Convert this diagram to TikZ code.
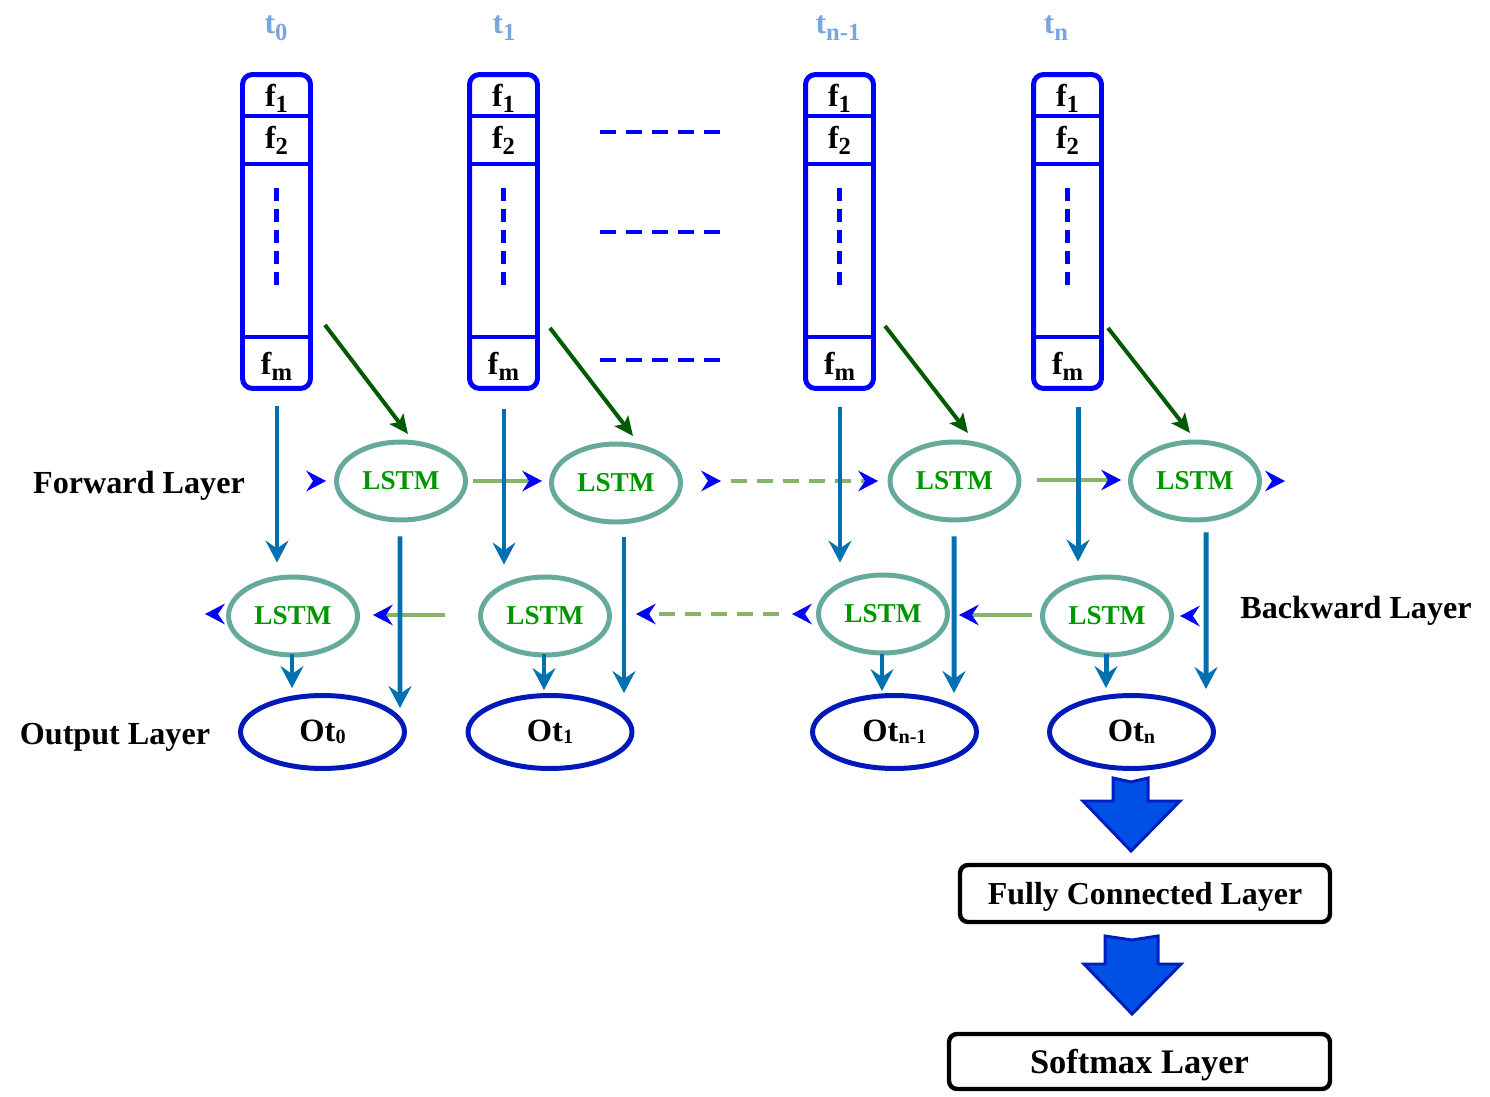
\documentclass[tikz,border=0pt]{standalone}
\usepackage{fontspec}
\setmainfont{Liberation Serif}
\usetikzlibrary{arrows.meta,shapes.geometric,calc}
\definecolor{boxblue}{RGB}{0,0,255}
\definecolor{tblue}{RGB}{122,166,224}
\definecolor{dgreen}{RGB}{0,90,0}
\definecolor{steel}{RGB}{0,112,176}
\definecolor{lstmring}{RGB}{102,170,155}
\definecolor{lstmtext}{RGB}{0,150,0}
\definecolor{lgreen}{RGB}{135,180,105}
\definecolor{outblue}{RGB}{0,25,185}
\definecolor{bafill}{RGB}{0,80,230}
\definecolor{badraw}{RGB}{0,30,190}
\newcommand{\fsub}[1]{f\raisebox{-3.5pt}{\fontsize{14}{14}\selectfont #1}}
\newcommand{\tsub}[1]{t\raisebox{-4pt}{\fontsize{14}{14}\selectfont #1}}
\newcommand{\osub}[1]{Ot\raisebox{-1pt}{\fontsize{11.5}{11.5}\selectfont #1}}
\begin{document}
\begin{tikzpicture}[x=0.02cm,y=-0.02cm,
 lbl/.style={font=\fontsize{18.3}{20}\selectfont\bfseries, text=black, inner sep=0, text depth=0pt},
 ftxt/.style={font=\fontsize{18}{20}\selectfont\bfseries, inner sep=0},
 ttxt/.style={font=\fontsize{18}{20}\selectfont\bfseries, text=tblue, inner sep=0},
 featbox/.style={draw=boxblue, line width=2.83pt, rounded corners=0.2cm, minimum width=1.36cm, minimum height=6.28cm, inner sep=0},
 featline/.style={draw=boxblue, line width=2.6pt},
 vdots/.style={draw=boxblue, line width=2.3pt, dash pattern=on 0.26cm off 0.16cm},
 hdots/.style={draw=boxblue, line width=2.3pt, dash pattern=on 0.32cm off 0.2cm},
 lstm/.style={ellipse, draw=lstmring, line width=2.83pt, minimum width=2.58cm, minimum height=1.56cm, inner sep=0, text=lstmtext, font=\fontsize{15.5}{18}\selectfont\bfseries},
 outnode/.style={ellipse, draw=outblue, line width=2.83pt, minimum width=3.28cm, minimum height=1.46cm, inner sep=0, font=\fontsize{18.5}{20}\selectfont\bfseries},
 layerbox/.style={draw=black, line width=2.5pt, rounded corners=0.16cm, inner sep=0, text depth=0pt},
 vflow/.style={draw=steel, line width=2.83pt, -{Stealth[length=0.44cm,width=0.46cm,inset=0.16cm]}},
 feed/.style={draw=dgreen, line width=2.27pt, -{Stealth[length=0.38cm,width=0.34cm,inset=0.08cm]}},
 rec/.style={draw=lgreen, line width=2.27pt, -{Stealth[length=0.4cm,width=0.42cm,inset=0.14cm,color=boxblue,line width=0pt]}},
 recd/.style={rec, dash pattern=on 0.32cm off 0.2cm},
 chevr/.pic={\fill[boxblue] (0,0) -- (-20,-10.5) -- (-13,0) -- (-20,10.5) -- cycle;},
 chevl/.pic={\fill[boxblue] (0,0) -- (20,-10.5) -- (13,0) -- (20,10.5) -- cycle;},
 blockarrow/.style={fill=bafill, draw=badraw, line width=1.7pt, line join=miter}
]
\useasboundingbox (0,0) rectangle (1490,1097);

% feature columns
\foreach \i/\x/\tx/\tt in {1/276.5/276/0, 2/503.5/504/1, 3/839.5/838/n-1, 4/1067.5/1056/n} {
  \node[ttxt] (t\i) at (\tx,28) {\tsub{\tt}};
  \node[featbox] (c\i) at (\x,231.5) {};
  \draw[featline] ({\x-34},116) -- ({\x+34},116);
  \draw[featline] ({\x-34},164) -- ({\x+34},164);
  \draw[featline] ({\x-34},337) -- ({\x+34},337);
  \node[ftxt] (c\i a) at (\x,98) {\fsub{1}};
  \node[ftxt] (c\i b) at (\x,140) {\fsub{2}};
  \node[ftxt] (c\i m) at (\x,366) {\fsub{m}};
  \draw[vdots] (\x,188) -- (\x,288);
}
\draw[hdots] (600,132) -- (720,132);
\draw[hdots] (600,232) -- (720,232);
\draw[hdots] (600,360) -- (720,360);

% layer labels
\node[lbl] (lf) at (139,482) {Forward Layer};
\node[lbl] (lb) at (1356,607) {Backward Layer};
\node[lbl] (lo) at (115,734) {Output Layer};

% LSTM nodes
\node[lstm] (f1) at (401,481) {LSTM};
\node[lstm] (f2) at (616,483) {LSTM};
\node[lstm] (f3) at (954.5,481) {LSTM};
\node[lstm] (f4) at (1195,481) {LSTM};
\node[lstm] (b1) at (293,616) {LSTM};
\node[lstm] (b2) at (545,616) {LSTM};
\node[lstm] (b3) at (883,614) {LSTM};
\node[lstm] (b4) at (1107,616) {LSTM};

% output nodes
\node[outnode] (o1) at (322.5,732) {\osub{0}};
\node[outnode] (o2) at (550,732) {\osub{1}};
\node[outnode] (o3) at (894.5,732) {\osub{n-1}};
\node[outnode] (o4) at (1131.5,732) {\osub{n}};

% forward recurrent connections
\pic at ($(f1.west)+(-8,0)$) {chevr};
\draw[rec] ($(f1.east)+(5,0)$) -- ($(f2.west |- f1.east)+(-7,0)$);
\pic at ($(f2.east |- f3.west)+(38,0)$) {chevr};
\draw[recd] ($(f2.east |- f3.west)+(48,0)$) -- ($(f3.west)+(-9.5,0)$);
\draw[rec] ($(f3.east)+(15.5,-1)$) -- ($(f4.west)+(-7,-1)$);
\pic at ($(f4.east)+(23,0)$) {chevr};

% backward recurrent connections
\pic at ($(b1.west)+(-21,-2)$) {chevl};
\draw[rec] ($(b2.west)+(-33,-1)$) -- ($(b1.east)+(13,-1)$);
\pic at ($(b3.west)+(-24,0)$) {chevl};
\draw[recd] ($(b3.west)+(-37,0)$) -- ($(b2.east |- b3.west)+(24,0)$);
\draw[rec] ($(b4.west)+(-8,-1)$) -- ($(b3.east |- b4.west)+(9,-1)$);
\pic at ($(b4.east)+(6,0)$) {chevl};

% feature inputs to forward LSTMs
\draw[feed] ($(c1.south east)+(12,-66)$) -- ($(f1.north)+(7,-5.5)$);
\draw[feed] ($(c2.south east)+(10,-63)$) -- ($(f2.north)+(17,-5.5)$);
\draw[feed] ($(c3.south east)+(9,-65)$) -- ($(f3.north)+(13.5,-6.5)$);
\draw[feed] ($(c4.south east)+(4,-63)$) -- ($(f4.north)+(-5,-6.5)$);

% feature inputs to backward LSTMs
\coordinate (c4s) at ($(c4.south)+(10.5,0)$);
\draw[vflow, shorten >=0.24cm] ($(c1.south)+(0.5,15)$) -- ($(c1.south |- b1.north)+(0.5,0)$);
\draw[vflow, shorten >=0.2cm] ($(c2.south)+(0.5,18)$) -- ($(c2.south |- b2.north)+(0.5,0)$);
\draw[vflow, shorten >=0.2cm] ($(c3.south)+(0.5,16)$) -- ($(c3.south |- b3.north)+(0.5,0)$);
\draw[vflow, shorten >=0.26cm] ($(c4s)+(0,16)$) -- (c4s |- b4.north);

% forward LSTM to outputs
\draw[vflow] ($(f1.south)+(-1,14)$) -- ($(o1.center)+(77.5,-24)$);
\draw[vflow] ($(f2.south)+(8,13)$) -- ($(o2.center)+(74,-39)$);
\draw[vflow] ($(f3.south)+(-0.5,14)$) -- ($(o3.center)+(59.5,-39)$);
\draw[vflow] ($(f4.south)+(11,10)$) -- ($(o4.center)+(74.5,-43)$);

% backward LSTM to outputs
\draw[vflow, shorten >=0.1cm] ($(b1.south)+(-1,-3)$) -- ($(b1.south |- o1.north)+(-1,0)$);
\draw[vflow, shorten >=0.06cm] ($(b2.south)+(-1,-3)$) -- ($(b2.south |- o2.north)+(-1,0)$);
\draw[vflow, shorten >=0.04cm] ($(b3.south)+(-1,-1)$) -- ($(b3.south |- o3.north)+(-1,0)$);
\draw[vflow, shorten >=0.1cm] ($(b4.south)+(-1,-3)$) -- ($(b4.south |- o4.north)+(-1,0)$);

% final layers
\node[layerbox, minimum width=7.4cm, minimum height=1.14cm, font=\fontsize{18.2}{20}\selectfont\bfseries] (fc) at (1145,893.5) {Fully Connected Layer};
\node[layerbox, minimum width=7.62cm, minimum height=1.1cm, font=\fontsize{19.6}{20}\selectfont\bfseries] (sm) at (1139.5,1061.5) {Softmax Layer};

\draw[blockarrow] (1113,778) -- (1131,782) -- (1148,778) -- (1148,801) -- (1180,801) -- (1131,851) -- (1083,801) -- (1113,801) -- cycle;
\draw[blockarrow] (1105,936) -- (1132,940) -- (1158,936) -- (1158,964) -- (1181,964) -- (1132,1014) -- (1084,964) -- (1105,964) -- cycle;
\end{tikzpicture}
\end{document}
